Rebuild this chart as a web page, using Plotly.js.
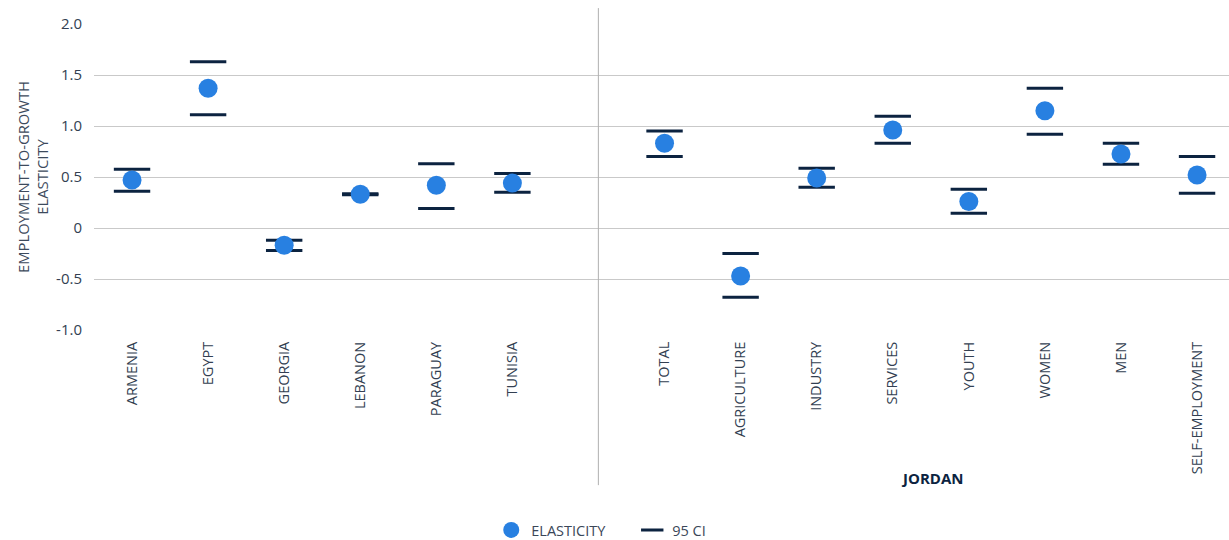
<!DOCTYPE html>
<html>
<head>
<meta charset="utf-8">
<script src="https://cdn.plot.ly/plotly-3.0.1.min.js"></script>
<style>html,body{margin:0;padding:0;background:#fff;}#chart{width:1229px;height:540px;}</style>
</head>
<body>
<div id="chart"></div>
<script>
const countries = ["ARMENIA", "EGYPT", "GEORGIA", "LEBANON", "PARAGUAY", "TUNISIA"];
const countryElasticity = [0.47, 1.37, -0.17, 0.33, 0.42, 0.44];
const countryCIUpper = [0.575, 1.63, -0.12, 0.335, 0.63, 0.535];
const countryCILower = [0.36, 1.11, -0.22, 0.325, 0.19, 0.35];

const jordanGroups = ["TOTAL", "AGRICULTURE", "INDUSTRY", "SERVICES", "YOUTH", "WOMEN", "MEN", "SELF-EMPLOYMENT"];
const jordanElasticity = [0.83, -0.47, 0.49, 0.96, 0.26, 1.15, 0.725, 0.52];
const jordanCIUpper = [0.95, -0.25, 0.585, 1.095, 0.38, 1.37, 0.83, 0.70];
const jordanCILower = [0.70, -0.68, 0.40, 0.83, 0.145, 0.92, 0.625, 0.34];

const yTickVals = [-1, -0.5, 0, 0.5, 1, 1.5, 2];
const yTickText = ["-1.0", "-0.5", "0", "0.5", "1.0", "1.5", "2.0"];

const spacer = " ";
const categoryOrder = countries.concat([spacer], jordanGroups);
const allX = countries.concat(jordanGroups);
const allY = countryElasticity.concat(jordanElasticity);
const ciX = allX.concat(allX);
const ciY = countryCIUpper.concat(jordanCIUpper, countryCILower, jordanCILower);

const dotColor = "#2880e1";
const ciColor = "#0c2340";
const textColor = "#2e3b4e";

const traces = [
  {
    type: "scatter", mode: "markers", name: "95 CI",
    x: ciX, y: ciY,
    marker: {symbol: "line-ew", size: 26, color: ciColor, line: {color: ciColor, width: 3}},
    hoverinfo: "x+y"
  },
  {
    type: "scatter", mode: "markers", name: "ELASTICITY",
    x: allX, y: allY,
    marker: {symbol: "circle", size: 19, color: dotColor},
    hoverinfo: "x+y"
  }
];

const layout = {
  width: 1229, height: 540,
  margin: {l: 94, r: 0, t: 24, b: 210, autoexpand: false},
  paper_bgcolor: "#fff", plot_bgcolor: "#fff",
  font: {family: "Open Sans, sans-serif", color: textColor, size: 14},
  showlegend: true,
  legend: {
    orientation: "h", x: 0.35, xanchor: "left", xref: "paper",
    y: 0.0185, yanchor: "middle", yref: "container",
    traceorder: "reversed",
    entrywidth: 96, entrywidthmode: "pixels",
    font: {size: 14.5, color: "#3a4658"}
  },
  xaxis: {
    type: "category",
    categoryorder: "array", categoryarray: categoryOrder,
    range: [-0.5, 14.42],
    showgrid: false, zeroline: false, showline: false,
    tickangle: -90,
    ticks: "outside", ticklen: 5, tickcolor: "rgba(0,0,0,0)",
    tickfont: {size: 14.5, color: "#333f52"}
  },
  yaxis: {
    range: [-1, 2],
    tickvals: yTickVals, ticktext: yTickText,
    showgrid: true, gridcolor: "#c9c9c9", gridwidth: 1,
    zeroline: false, showline: false,
    ticks: "outside", ticklen: 8, tickcolor: "rgba(0,0,0,0)",
    tickfont: {size: 15, color: "#333f52"}
  },
  shapes: [
    {type: "line", xref: "x", yref: "paper", x0: 6.13, x1: 6.13, y0: -0.507, y1: 1.052,
     line: {color: "#b0b0b0", width: 1}}
  ],
  annotations: [
    {text: "EMPLOYMENT-TO-GROWTH<br>ELASTICITY", xref: "paper", yref: "paper", x: -0.0546, y: 0.5,
     textangle: -90, showarrow: false, xanchor: "center", yanchor: "middle",
     font: {size: 14.8, color: "#3d4a5c"}},
    {text: "<b>JORDAN</b>", xref: "x", yref: "paper", x: 10.51, y: -0.484, showarrow: false,
     xanchor: "center", yanchor: "middle", font: {size: 15, color: ciColor, family: "Open Sans, sans-serif"}}
  ]
};

Plotly.newPlot("chart", traces, layout, {displayModeBar: false, responsive: false});
</script>
</body>
</html>
